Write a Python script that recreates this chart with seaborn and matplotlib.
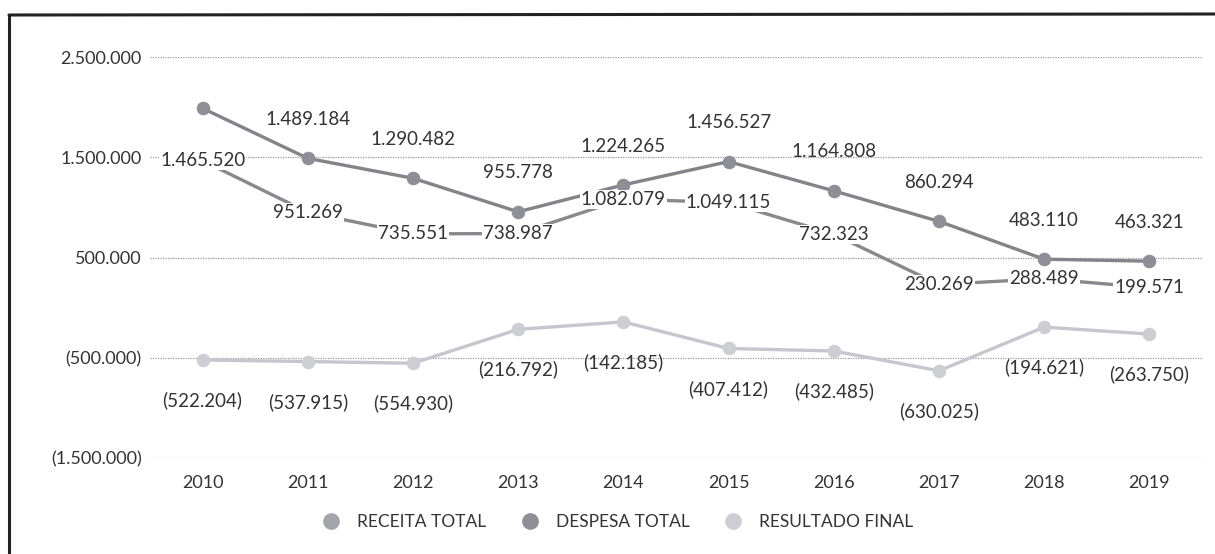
import matplotlib
matplotlib.use("Agg")
import matplotlib.pyplot as plt
from matplotlib.lines import Line2D
import pandas as pd
import seaborn as sns

# data
anos = [2010, 2011, 2012, 2013, 2014, 2015, 2016, 2017, 2018, 2019]
receita = [1465520, 951269, 735551, 738987, 1082079, 1049115, 732323, 230269, 288489, 199571]
despesa = [1987724, 1489184, 1290482, 955778, 1224265, 1456527, 1164808, 860294, 483110, 463321]
resultado = [-522204, -537915, -554930, -216792, -142185, -407412, -432485, -630025, -194621, -263750]
yticks = [2500000, 1500000, 500000, -500000, -1500000]


def fmt(v):
    s = f"{abs(v):,}".replace(",", ".")
    return f"({s})" if v < 0 else s


cores = {"RECEITA TOTAL": "#88888e", "DESPESA TOTAL": "#838389", "RESULTADO FINAL": "#c6c6ce"}
marc = {"RECEITA TOTAL": "#a4a4ac", "DESPESA TOTAL": "#8e8e96", "RESULTADO FINAL": "#cdcdd4"}

df = pd.DataFrame({"ano": anos * 3,
                   "valor": receita + despesa + resultado,
                   "serie": ["RECEITA TOTAL"] * 10 + ["DESPESA TOTAL"] * 10 + ["RESULTADO FINAL"] * 10})
df["pos"] = df["ano"] - anos[0]

sns.set_theme(style="white")
plt.rcParams["font.family"] = ["Lato", "DejaVu Sans"]

fig = plt.figure(figsize=(12.15, 5.54), dpi=100)
ax = fig.add_axes([150 / 1215, 1 - 458 / 554, (1202 - 150) / 1215, (458 - 57) / 554])

for y in yticks:
    ax.axhline(y, color="#9a9a9a", lw=0.9, ls=(0, (1, 1)), zorder=0)

for nome in ["RESULTADO FINAL", "RECEITA TOTAL", "DESPESA TOTAL"]:
    sub = df[df["serie"] == nome]
    sns.lineplot(data=sub, x="pos", y="valor", ax=ax, color=cores[nome], lw=2.4,
                 marker="o", markersize=9, markerfacecolor=marc[nome],
                 markeredgecolor=marc[nome], legend=False, zorder=2)

txt = dict(fontsize=13.5, color="#333333", ha="center", va="center")
for i, v in enumerate(despesa):
    if i == 0:
        continue
    ax.annotate(fmt(v), (i, v), xytext=(0, 28), textcoords="offset points", **txt)
for i, v in enumerate(receita):
    ax.annotate(fmt(v), (i, v), xytext=(0, 0), textcoords="offset points", zorder=5,
                bbox=dict(boxstyle="square,pad=0.05", fc="white", ec="none"), **txt)
for i, v in enumerate(resultado):
    ax.annotate(fmt(v), (i, v), xytext=(0, -29), textcoords="offset points", **txt)

ax.set_xlim(-0.5, len(anos) - 0.5)
ax.set_ylim(-1500000, 2500000)
ax.set_xticks(range(len(anos)))
ax.set_xticklabels([str(a) for a in anos])
ax.set_yticks(yticks)
ax.set_yticklabels([fmt(v) for v in yticks])
ax.tick_params(axis="both", labelsize=13, colors="#333333", length=0)
ax.tick_params(axis="x", pad=12)
ax.tick_params(axis="y", pad=6)
ax.set_xlabel("")
ax.set_ylabel("")
for s in ax.spines.values():
    s.set_visible(False)

handles = [Line2D([], [], ls="none", marker="o", markersize=11,
                  markerfacecolor=marc[n], markeredgecolor=marc[n], label=n)
           for n in ["RECEITA TOTAL", "DESPESA TOTAL", "RESULTADO FINAL"]]
fig.legend(handles=handles, loc="center", bbox_to_anchor=(618 / 1215, 1 - 522 / 554),
           ncol=3, frameon=False, fontsize=12.5, handlelength=1.0, handletextpad=1.0,
           columnspacing=2.0, labelcolor="#333333")

# moldura
fig.add_artist(Line2D([9 / 1215, 1.0], [1 - 15 / 554, 1 - 14 / 554], color="#222222", lw=2.2))
fig.add_artist(Line2D([9 / 1215, 9 / 1215], [0, 1 - 15 / 554], color="#222222", lw=2.2))

fig.savefig("out.png", dpi=100)
